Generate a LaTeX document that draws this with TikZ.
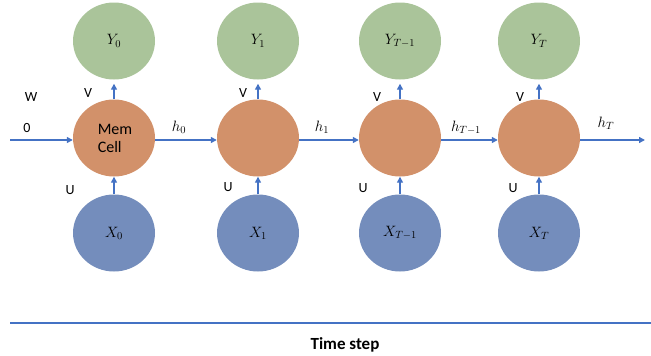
\documentclass[tikz,border=0pt]{standalone}
\usepackage{fix-cm}
\usepackage{fontspec}
\setmainfont{Carlito}
\usetikzlibrary{shapes.geometric,arrows.meta}
\definecolor{ygreen}{RGB}{170,196,154}
\definecolor{horange}{RGB}{210,145,106}
\definecolor{xblue}{RGB}{116,141,188}
\definecolor{arblue}{RGB}{68,114,196}
\begin{document}
\begin{tikzpicture}[x=1pt,y=-1pt,
  bubble/.style={ellipse,inner sep=0pt,minimum width=82pt,minimum height=77pt,draw=none,font=\fontsize{15}{17}\selectfont},
  ynode/.style={bubble,fill=ygreen},
  hnode/.style={bubble,fill=horange},
  xnode/.style={bubble,fill=xblue},
  arr/.style={draw=arblue,line width=1.4pt,-{Triangle[length=6pt,width=6pt]}},
  lbl/.style={inner sep=0pt,font=\fontsize{14}{16}\selectfont},
  mlbl/.style={inner sep=0pt,font=\fontsize{15}{17}\selectfont}
]
\useasboundingbox (0,0) rectangle (651,356);
% columns
\foreach \i/\x/\ys/\xs in {0/114/{Y_0}/{X_0},1/258/{Y_1}/{X_1},2/400/{Y_{T-1}}/{X_{T-1}},3/539/{Y_T}/{X_T}}{
  \node[ynode] (y\i) at (\x,41) {$\ys$};
  \node[hnode] (h\i) at (\x,138) {};
  \node[xnode] (x\i) at (\x,233) {$\xs$};
  \draw[arr,shorten >=4pt] (h\i.north) -- (y\i.south);
  \draw[arr] (x\i.north) -- (h\i.south);
}
\node[inner sep=0pt,align=left,font=\fontsize{16}{18}\selectfont] (mc) at (115,138) {Mem\\Cell};
\coordinate (start) at (10,140);
\coordinate (fin) at (645,140);
\draw[arr] (start) -- (h0.west |- start);
\draw[arr] (h0.east |- start) -- (h1.west |- start);
\draw[arr] (h1.east |- start) -- (h2.west |- start);
\draw[arr] (h2.east |- start) -- (h3.west |- start);
\draw[arr] (h3.east |- start) -- (fin);
% labels
\node[lbl] (w) at (31,97) {W};
\node[lbl] (zero) at (27,128) {0};
\node[lbl] (v0) at (88,93) {V};
\node[lbl] (v1) at (243,93) {V};
\node[lbl] (v2) at (377,97) {V};
\node[lbl] (v3) at (520,97) {V};
\node[lbl] (u0) at (70,190) {U};
\node[lbl] (u1) at (228,187) {U};
\node[lbl] (u2) at (363,188) {U};
\node[lbl] (u3) at (513,188) {U};
\node[mlbl] (l0) at (179,127) {$h_0$};
\node[mlbl] (l1) at (322,127) {$h_1$};
\node[mlbl] (l2) at (466,128) {$h_{T-1}$};
\node[mlbl] (l3) at (606,123) {$h_T$};
% time axis
\coordinate (ta) at (10,323);
\coordinate (tb) at (651,323);
\draw[draw=arblue,line width=1.5pt] (ta) -- (tb);
\node[inner sep=0pt,font=\fontsize{17}{19}\selectfont\bfseries] (ts) at (345,345) {Time step};
\end{tikzpicture}
\end{document}
